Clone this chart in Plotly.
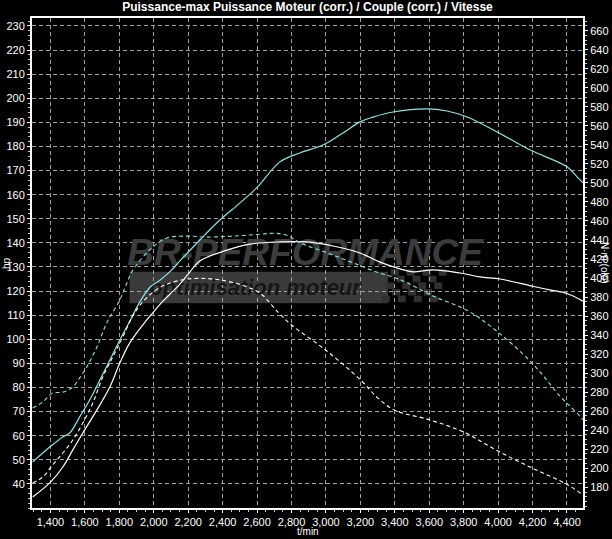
import plotly.graph_objects as go

# ---------------- data ----------------
rpm_pw_tuned = [1297, 1396, 1472, 1512, 1570, 1628, 1687, 1745, 1803, 1861, 1919, 1977, 2036, 2100,
                2152, 2268, 2384, 2500, 2600, 2733, 2849, 2983, 3099, 3198, 3274, 3390, 3588, 3704,
                3820, 3995, 4187, 4402, 4460, 4493]
hp_tuned = [49.1, 55.3, 59.5, 61.1, 67.8, 74.8, 83.1, 91.4, 99.7, 107.5, 115.5, 121.5, 124.5, 128.5,
            132.5, 141.2, 149.5, 156.5, 163.0, 173.6, 177.3, 180.6, 185.6, 190.2, 192.2, 194.3, 195.6, 194.7,
            192.2, 186.0, 178.5, 171.5, 167.3, 164.9]

rpm_pw_stock = [1297, 1396, 1472, 1530, 1588, 1670, 1745, 1803, 1861, 1937, 1995, 2053, 2134, 2200,
                2268, 2425, 2558, 2733, 2890, 3041, 3198, 3314, 3430, 3506, 3622, 3779, 3895, 4012,
                4200, 4300, 4400, 4493]
hp_stock = [34.6, 40.4, 47.0, 54.1, 61.1, 70.7, 80.2, 90.2, 98.5, 106.0, 111.0, 115.8, 121.5, 127.0,
            132.5, 137.0, 139.5, 140.4, 140.4, 138.7, 135.8, 132.0, 129.2, 128.0, 128.8, 127.5, 125.9, 125.0,
            122.0, 120.5, 119.0, 115.8]

rpm_tq_tuned = [1297, 1356, 1413, 1472, 1530, 1570, 1611, 1670, 1727, 1803, 1844, 1878, 1977, 2076,
                2192, 2308, 2460, 2617, 2700, 2773, 2849, 3006, 3157, 3314, 3390, 3471, 3622, 3820,
                4000, 4200, 4363, 4421, 4479, 4493]
nm_tuned = [263.4, 269.7, 279.0, 280.0, 285.4, 295.0, 306.5, 327.5, 352.7, 377.0, 394.8, 408.0, 429.5, 442.0,
            444.0, 443.0, 444.0, 446.0, 447.0, 445.0, 437.0, 426.5, 416.0, 405.0, 401.0, 395.0, 381.0, 366.0,
            343.0, 310.0, 275.0, 264.7, 254.0, 251.0]

rpm_tq_stock = [1297, 1356, 1413, 1472, 1530, 1588, 1646, 1704, 1762, 1820, 1878, 1937, 2018, 2100,
                2200, 2300, 2384, 2504, 2617, 2722, 2800, 3000, 3200, 3300, 3400, 3600, 3800, 4000,
                4200, 4400, 4493]
nm_stock = [184.5, 190.8, 203.4, 216.0, 229.7, 247.5, 268.6, 296.0, 317.0, 338.0, 360.0, 375.0, 388.0, 395.0,
            399.0, 399.5, 398.0, 393.0, 384.0, 364.0, 350.6, 324.0, 293.0, 274.0, 261.0, 251.0, 238.0, 218.0,
            200.0, 183.0, 172.0]

x_ticks = list(range(1400, 4401, 200))
hp_ticks = list(range(40, 231, 10))
nm_ticks = list(range(180, 661, 20))

title_text = "Puissance-max Puissance Moteur (corr.) / Couple (corr.) / Vitesse"
x_title = "t/min"
y_title = "hp"
y2_title = "N·m (olo)"
wm_main = "BR-PERFORMANCE"
wm_sub = "optimisation moteur"

# ---------------- styling ----------------
X_RANGE = [1293, 4493]
Y_RANGE = [30, 233.3]
Y2_RANGE = [158.2, 673.3]
CYAN = "#8fe3e3"
WHITE = "#ffffff"
GRID = "#a0a0a0"
FONT = "Liberation Sans Narrow, Liberation Sans, Arial, sans-serif"

def at_paper(fx, fy):
    return (X_RANGE[0] + fx * (X_RANGE[1] - X_RANGE[0]),
            Y_RANGE[0] + fy * (Y_RANGE[1] - Y_RANGE[0]))

fig = go.Figure()

# watermark text (drawn first so curves lie on top)
wx, wy = at_paper(0.4955, 0.515)
fig.add_trace(go.Scatter(x=[wx], y=[wy], mode="text", text=[f"<b><i>{wm_main}</i></b>"],
                         textfont=dict(family="Liberation Sans, Arial, sans-serif", size=37, color="#3c3c3c"),
                         hoverinfo="skip", showlegend=False))
sx, sy = at_paper(0.405, 0.446)
fig.add_trace(go.Scatter(x=[sx], y=[sy], mode="text", text=[f"<b><i>{wm_sub}</i></b>"],
                         textfont=dict(family="Liberation Sans, Arial, sans-serif", size=22, color="#161616"),
                         hoverinfo="skip", showlegend=False))

fig.add_trace(go.Scatter(x=rpm_pw_stock, y=hp_stock, mode="lines", line=dict(color=WHITE, width=1.2),
                         line_shape="spline", showlegend=False, name="Puissance"))
fig.add_trace(go.Scatter(x=rpm_pw_tuned, y=hp_tuned, mode="lines", line=dict(color=CYAN, width=1.2),
                         line_shape="spline", showlegend=False, name="Puissance (opt.)"))
fig.add_trace(go.Scatter(x=rpm_tq_stock, y=nm_stock, mode="lines", yaxis="y2",
                         line=dict(color=WHITE, width=1.1, dash="4px,3px"),
                         line_shape="spline", showlegend=False, name="Couple"))
fig.add_trace(go.Scatter(x=rpm_tq_tuned, y=nm_tuned, mode="lines", yaxis="y2",
                         line=dict(color=CYAN, width=1.1, dash="4px,3px"),
                         line_shape="spline", showlegend=False, name="Couple (opt.)"))

# watermark banner + checkered flag (decoration, paper coords)
shapes = [dict(type="rect", xref="paper", yref="paper", x0=0.177, x1=0.646, y0=0.418, y1=0.482,
               fillcolor="#3a3a3a", line=dict(width=0), layer="below")]
sq_w, sq_h = 0.0145, 0.0135
for r in range(5):
    for c in range(7):
        if (r + c) % 2 == 0:
            x0 = 0.635 + c * sq_w + r * 0.004
            y0 = 0.42 + r * sq_h
            shapes.append(dict(type="rect", xref="paper", yref="paper", x0=x0, x1=x0 + sq_w,
                               y0=y0, y1=y0 + sq_h, fillcolor="#303030", line=dict(width=0), layer="below"))

TICKFONT = dict(family=FONT, size=11, color="white")

fig.update_layout(
    width=612, height=539,
    margin=dict(l=32, r=29, t=18, b=31, autoexpand=False),
    paper_bgcolor="black", plot_bgcolor="black",
    font=dict(family=FONT, color="white", size=11),
    title=dict(text=f"<b>{title_text}</b>", x=0.5, xanchor="center", xref="paper",
               y=1 - 7 / 539, yref="container", yanchor="middle",
               font=dict(family=FONT, size=12, color="white")),
    shapes=shapes,
    xaxis=dict(range=X_RANGE, tickvals=x_ticks, ticktext=[f"{v:,}" for v in x_ticks], automargin=False,
               showgrid=True, gridcolor=GRID, griddash="4px,3px", gridwidth=1,
               showline=True, linecolor="white", linewidth=2, mirror=True,
               ticks="outside", ticklen=3, tickcolor="white", zeroline=False, tickfont=TICKFONT,
               minor=dict(ticks="outside", ticklen=2, dtick=50, tickcolor="#cccccc", showgrid=False)),
    yaxis=dict(range=Y_RANGE, tickvals=hp_ticks, automargin=False, showgrid=True, gridcolor=GRID,
               griddash="4px,3px", gridwidth=1, showline=True, linecolor="white", linewidth=2, mirror=True,
               ticks="outside", ticklen=3, tickcolor="white", zeroline=False, tickfont=TICKFONT,
               minor=dict(ticks="outside", ticklen=2, dtick=2, tickcolor="#cccccc", showgrid=False)),
    yaxis2=dict(range=Y2_RANGE, tickvals=nm_ticks, automargin=False, overlaying="y", side="right",
                showgrid=False, showline=True, linecolor="white", linewidth=2, ticks="outside", ticklen=3,
                tickcolor="white", zeroline=False, tickfont=TICKFONT,
                minor=dict(ticks="outside", ticklen=2, dtick=5, tickcolor="#cccccc")),
    annotations=[
        dict(text=x_title, xref="paper", yref="paper", x=0.5, y=-0.047, showarrow=False,
             xanchor="center", yanchor="middle", font=dict(size=10, color="white")),
        dict(text=y_title, xref="paper", yref="paper", x=-0.047, y=0.5, showarrow=False,
             textangle=-90, xanchor="center", yanchor="middle", font=dict(size=10, color="white")),
        dict(text=y2_title, xref="paper", yref="paper", x=1.04, y=0.5, showarrow=False,
             textangle=90, xanchor="center", yanchor="middle", font=dict(size=10, color="white")),
    ],
)

fig.write_html("out.html", config={"displayModeBar": False},
               post_script="document.body.style.margin='0';document.body.style.background='black';")
